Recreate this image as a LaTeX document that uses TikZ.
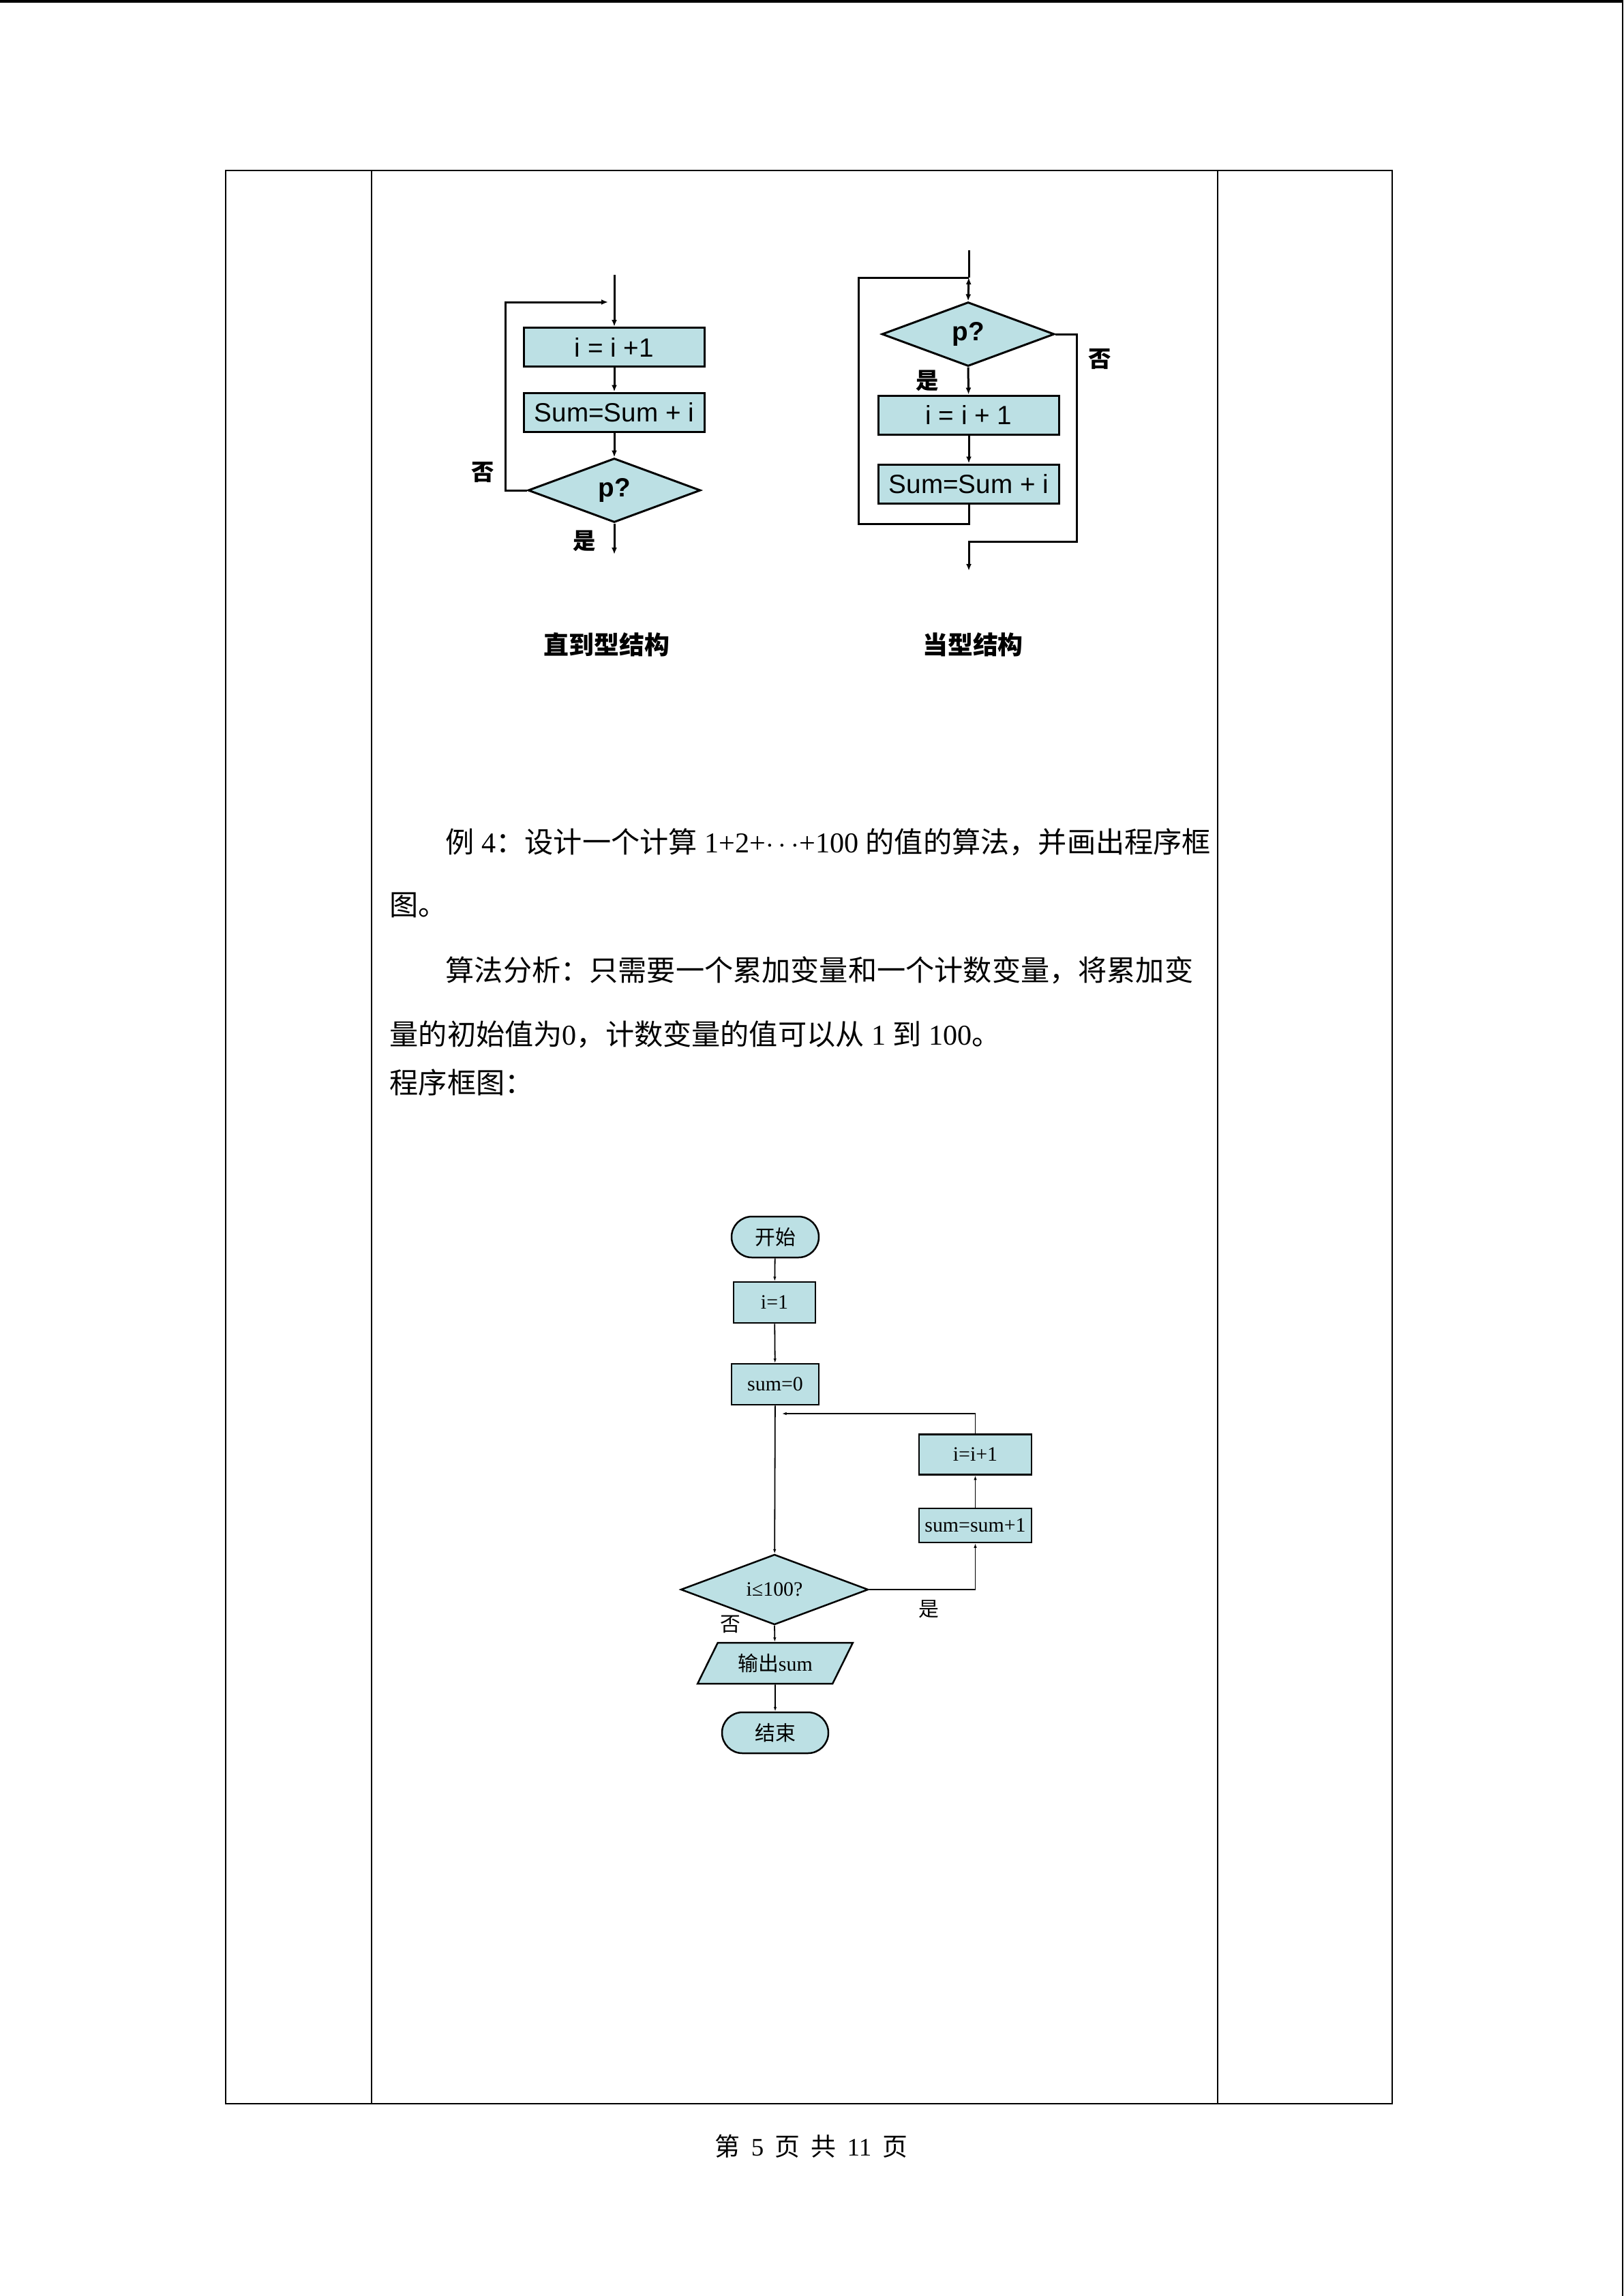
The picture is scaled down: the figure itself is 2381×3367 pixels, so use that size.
\documentclass[tikz,border=0pt]{standalone}
\usepackage{fontspec}
\setmainfont{Liberation Serif}
\newfontfamily\arialfont{Liberation Sans}
\newfontfamily\cjkfont{Noto Sans CJK SC}
\usetikzlibrary{shapes.geometric,arrows.meta}

\definecolor{boxblue}{RGB}{188,224,228}

\tikzset{
  % styles of the two small structure charts
  pbox/.style={draw, line width=0.3mm, fill=boxblue, rectangle, minimum width=26.5mm,
    minimum height=5.7mm, inner sep=0pt, font=\arialfont\fontsize{11pt}{13pt}\selectfont},
  pdia/.style={draw, line width=0.3mm, fill=boxblue, diamond, minimum width=25.3mm,
    minimum height=9.4mm, inner sep=0pt, font=\arialfont\bfseries\fontsize{11pt}{13pt}\selectfont},
  pline/.style={line width=0.3mm},
  parr/.style={pline, -{Latex[length=1mm,width=0.8mm]}},
  plabel/.style={inner sep=0pt, font=\cjkfont\bfseries\fontsize{9.5pt}{11pt}\selectfont},
  % styles of the example chart
  procbox/.style={draw, line width=0.25mm, fill=boxblue, rectangle, inner sep=0pt,
    font=\fontsize{8.5pt}{10pt}\selectfont},
  termbox/.style={procbox, rounded corners=3mm},
  decbox/.style={procbox, diamond},
  iobox/.style={procbox, trapezium, trapezium left angle=55, trapezium right angle=125,
    trapezium stretches=true},
  flow/.style={line width=0.18mm},
  flowarr/.style={flow, -{Latex[length=0.65mm,width=0.45mm]}},
  flowlabel/.style={inner sep=0pt, font=\cjkfont\fontsize{8.5pt}{10pt}\selectfont},
  % text of the page
  bodytext/.style={anchor=west, inner sep=0pt, font=\fontsize{12pt}{14pt}\selectfont}
}

\newcommand\pgap{\hspace{0.44em}}

\begin{document}
\begin{tikzpicture}[x=0.1mm, y=-0.1mm]

    % Fix the page size
    \useasboundingbox (0,0) rectangle (2381,3367);

    % Draw the page edges
    \draw[line width=0.4mm] (0,2) -- (2381,2);
    \draw[line width=0.25mm] (2380,0) -- (2380,3367);

    % Draw the table and its column lines
    \draw[line width=0.25mm] (331,250) rectangle (2042,3085);
    \draw[line width=0.25mm] (545,250) -- (545,3085);
    \draw[line width=0.25mm] (1786,250) -- (1786,3085);

    % ---------- until structure ----------
    \coordinate (in1) at (901,403);
    \coordinate (loop1) at (892,443);
    \coordinate (out1) at (901,813);

    \node[pbox] (inc1) at (901,509) {i = i +1};
    \node[pbox] (sum1) at (901,604.5) {Sum=Sum + i};
    \node[pdia] (dia1) at (901,719) {p?};

    \draw[parr] (in1) -- (inc1);
    \draw[parr] (inc1) -- (sum1);
    \draw[parr] (sum1) -- (dia1);
    \draw[parr] (dia1.south) -- (out1);
    \draw[parr] (dia1.west) -- ++(-32,0) |- (loop1);

    \node[plabel] (no1) at (708,693) {否};
    \node[plabel] (yes1) at (857,793) {是};

    % ---------- while structure ----------
    \coordinate (in2) at (1421,367);
    \coordinate (join2) at (1421,407);
    \coordinate (out2) at (1421,837);

    \node[pdia] (dia2) at (1420,490) {p?};
    \node[pbox] (inc2) at (1421,608.5) {i = i + 1};
    \node[pbox] (sum2) at (1421,709.5) {Sum=Sum + i};

    \draw[pline] (in2) -- (join2);
    \draw[pline, {Latex[length=1mm,width=0.8mm]}-{Latex[length=1mm,width=0.8mm]}] (join2) -- (dia2.north);
    \draw[parr] (dia2.south) -- (inc2);
    \draw[parr] (inc2) -- (sum2);
    \draw[pline] (sum2.south) -- ++(0,29) -| (1259,407) -- (join2);
    \draw[parr] (dia2.east) -- ++(31,0) |- (1421,794) -- (out2);

    \node[plabel] (yes2) at (1360,558) {是};
    \node[plabel] (no2) at (1613,527) {否};

    % Captions of the two structures
    \node[font=\cjkfont\bfseries\fontsize{10.5pt}{12pt}\selectfont] (cap1) at (890,945) {直到型结构};
    \node[font=\cjkfont\bfseries\fontsize{10.5pt}{12pt}\selectfont] (cap2) at (1427,945) {当型结构};

    % ---------- example text ----------
    \node[bodytext] (line1) at (653,1235) {{\cjkfont 例} 4{\cjkfont ：设计一个计算} 1+2+$\cdots$+100 {\cjkfont 的值的算法，并画出程序框}};
    \node[bodytext] (line2) at (571,1327) {\cjkfont 图。};
    \node[bodytext] (line3) at (653,1423) {\cjkfont 算法分析：只需要一个累加变量和一个计数变量，将累加变};
    \node[bodytext] (line4) at (571,1517) {{\cjkfont 量的初始值为}0{\cjkfont ，计数变量的值可以从} 1 {\cjkfont 到} 100{\cjkfont 。}};
    \node[bodytext] (line5) at (571,1587) {\cjkfont 程序框图：};

    % ---------- flow chart of the example ----------
    \coordinate (back) at (1147,2073);

    \node[termbox, minimum width=12.8mm, minimum height=6mm] (start) at (1137,1814) {\cjkfont 开始};
    \node[procbox, minimum width=12mm, minimum height=6mm] (init1) at (1136,1910) {i=1};
    \node[procbox, minimum width=12.8mm, minimum height=6mm] (init2) at (1137,2030) {sum=0};
    \node[procbox, minimum width=16.5mm, minimum height=5.9mm] (inc) at (1430.5,2133) {i=i+1};
    \node[procbox, minimum width=16.5mm, minimum height=5mm] (acc) at (1430.5,2237) {sum=sum+1};
    \node[decbox, minimum width=27.5mm, minimum height=8.8mm] (dec) at (1136,2331) {i≤100?};
    \node[iobox, minimum width=22.8mm, minimum height=6mm] (out) at (1137,2439) {{\cjkfont 输出}sum};
    \node[termbox, minimum width=15.6mm, minimum height=6mm] (stop) at (1137,2541) {\cjkfont 结束};

    \draw[flowarr] (start) -- (init1);
    \draw[flowarr] (init1) -- (init2);
    \draw[flowarr] (init2) -- (dec);
    \draw[flowarr] (dec.east) -| (acc.south);
    \draw[flowarr] (acc) -- (inc);
    \draw[flowarr] (inc.north) |- (back);
    \draw[flowarr] (dec.south) -- (out);
    \draw[flowarr] (out) -- (stop);

    \node[flowlabel] (yes3) at (1362,2360) {是};
    \node[flowlabel] (no3) at (1071,2382) {否};

    % Page number
    \node[font=\fontsize{10.5pt}{12pt}\selectfont] (pageno) at (1190,3147)
      {{\cjkfont 第}\pgap 5\pgap{\cjkfont 页}\pgap{\cjkfont 共}\pgap 11\pgap{\cjkfont 页}};

\end{tikzpicture}
\end{document}
